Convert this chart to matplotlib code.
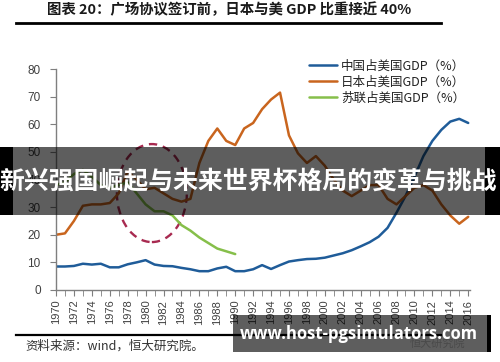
import matplotlib
matplotlib.use("Agg")
import matplotlib.pyplot as plt
from matplotlib.patches import Ellipse, Rectangle
from matplotlib.lines import Line2D

plt.rcParams['font.family'] = ['Noto Sans CJK SC', 'DejaVu Sans']

years = list(range(1970, 2017))
china = [8.5, 8.5, 8.7, 9.5, 9.2, 9.5, 8.2, 8.2, 9.3, 10.0,
         10.8, 9.2, 8.7, 8.6, 8.0, 7.5, 6.8, 6.8, 7.8, 8.4,
         6.8, 6.8, 7.5, 9.0, 7.6, 9.0, 10.3, 10.8, 11.2, 11.3,
         11.7, 12.5, 13.3, 14.4, 15.8, 17.3, 19.3, 22.5, 28.0, 34.0,
         41.0, 48.5, 54.0, 58.0, 61.0, 62.0, 60.5]
japan = [20.0, 20.5, 25.0, 30.5, 31.0, 31.0, 31.5, 35.0, 43.0, 40.0,
         36.5, 37.0, 35.0, 33.0, 32.0, 33.0, 46.0, 54.0, 58.5, 54.0,
         52.5, 58.5, 60.5, 65.5, 69.0, 71.5, 56.0, 49.5, 46.0, 48.5,
         45.0, 40.0, 36.0, 34.0, 36.0, 38.0, 38.0, 33.0, 31.0, 34.0,
         37.0, 38.0, 36.0, 31.0, 27.0, 24.0, 26.5]
ussr_years = list(range(1970, 1991))
ussr = [38.0, 39.0, 42.0, 43.5, 41.0, 38.0, 37.0, 38.0, 39.0, 35.0,
        31.0, 28.5, 28.5, 27.0, 23.5, 21.5, 19.0, 17.0, 15.0, 14.0, 13.0]

labels = ['中国占美国GDP（%）', '日本占美国GDP（%）', '苏联占美国GDP（%）']
colors = ['#1f5c99', '#c9651e', '#86bf4a']
xticks = list(range(1970, 2017, 2))
yticks = list(range(0, 81, 10))

fig = plt.figure(figsize=(5.0, 3.62), dpi=100)
fig.patch.set_facecolor('white')
ax = fig.add_axes([0.112, 0.199, 0.828, 0.61])

ax.plot(years, china, color=colors[0], lw=1.8, label=labels[0], solid_capstyle='round')
ax.plot(years, japan, color=colors[1], lw=1.8, label=labels[1], solid_capstyle='round')
ax.plot(ussr_years, ussr, color=colors[2], lw=1.8, label=labels[2], solid_capstyle='round')

ax.add_patch(Ellipse((1980.7, 35.1), 7.8, 35.5, fill=False, ls=(0, (3.5, 2.5)),
                     lw=1.7, edgecolor='#a82a50'))

ax.set_xlim(1970, 2016.2)
ax.set_ylim(0, 80)
ax.set_xticks(xticks)
ax.set_xticks(years, minor=True)
ax.set_xticklabels([str(y) for y in xticks], rotation=90,
                   fontsize=8, color='#404040', family='Liberation Sans')
ax.set_yticks(yticks)
ax.set_yticklabels([str(v) for v in yticks], fontsize=8.5, color='#404040',
                   family='Liberation Sans')
for s in ['top', 'right']:
    ax.spines[s].set_visible(False)
for s in ['left', 'bottom']:
    ax.spines[s].set_color('#7f7f7f')
    ax.spines[s].set_linewidth(1.0)
ax.tick_params(axis='y', length=4, color='#7f7f7f', pad=7)
ax.tick_params(axis='x', which='both', length=4, color='#7f7f7f', pad=3)

leg = ax.legend(loc='upper left', bbox_to_anchor=(0.6, 1.066), frameon=False,
                fontsize=9, handlelength=2.2, handletextpad=0.35,
                labelspacing=0.25, borderaxespad=0)
for t in leg.get_texts():
    t.set_color('#222222')

# title and rules
fig.text(0.459, 0.972, '图表 20：广场协议签订前，日本与美 GDP 比重接近 40%',
         ha='center', va='center', fontsize=10.4, fontweight='bold', color='#1a1a1a')
fig.add_artist(Line2D([0.032, 0.882], [1 - 22.5 / 362] * 2, color='black', lw=2.0))
fig.add_artist(Line2D([0.032, 0.882], [1 - 334.5 / 362] * 2, color='black', lw=1.6))
fig.text(0.05, 1 - 346 / 362, '资料来源：wind，恒大研究院。', ha='left', va='center',
         fontsize=9, style='italic', color='#333333')
fig.text(0.875, 1 - 343 / 362, '恒大研究院', ha='center', va='center',
         fontsize=8, color='#c8c8c8', zorder=0)

H = 362.0
W = 500.0
# big banner
fig.add_artist(Rectangle((13 / W, 1 - 215 / H), (485 - 13) / W, 68 / H,
                         transform=fig.transFigure, facecolor='black', alpha=0.63,
                         edgecolor='none'))
fig.add_artist(Rectangle((0, 1 - 215 / H), 13 / W, 68 / H,
                         transform=fig.transFigure, facecolor='black', edgecolor='none'))
fig.add_artist(Rectangle((485 / W, 1 - 215 / H), 15 / W, 68 / H,
                         transform=fig.transFigure, facecolor='black', edgecolor='none'))
fig.text(0.497, 1 - 182 / H, '新兴强国崛起与未来世界杯格局的变革与挑战', ha='center', va='center',
         fontsize=17.9, fontweight='bold', color='white')

# small banner
fig.add_artist(Rectangle((233 / W, 1 - 352 / H), (487 - 233) / W, 37 / H,
                         transform=fig.transFigure, facecolor='black', alpha=0.63,
                         edgecolor='none'))
fig.add_artist(Rectangle((487 / W, 1 - 352 / H), 4 / W, 37 / H,
                         transform=fig.transFigure, facecolor='black', edgecolor='none'))
fig.text(359 / W, 1 - 334 / H, 'www.host-pgsimulators.com', ha='center', va='center',
         fontsize=12, fontweight='bold', color='white', family='Open Sans')

fig.savefig('out.png', dpi=100, facecolor='white')
